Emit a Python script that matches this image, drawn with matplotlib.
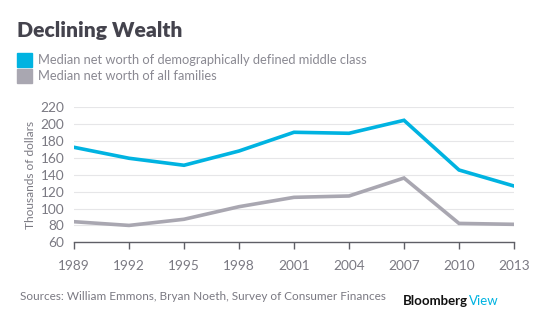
import matplotlib
matplotlib.use("Agg")
import matplotlib.pyplot as plt

# median net worth, thousands of dollars
years = [1989, 1992, 1995, 1998, 2001, 2004, 2007, 2010, 2013]
middle_class = [172.6, 159.6, 151.3, 168.2, 190.4, 189.2, 204.6, 145.7, 126.7]
all_families = [84.4, 80.0, 87.3, 102.2, 113.3, 114.9, 136.2, 82.4, 81.3]
yticks = [60, 80, 100, 120, 140, 160, 180, 200, 220]

blue = "#00b3e1"
grey = "#a9a7b1"
text_grey = "#7a7982"

plt.rcParams["font.family"] = ["Lato", "DejaVu Sans"]

fig = plt.figure(figsize=(5.54, 3.31), dpi=100)
ax = fig.add_axes([74 / 554, 1 - 242.3 / 331, 440 / 554, 135 / 331])

ax.plot(years, middle_class, color=blue, lw=2.6, solid_joinstyle="miter", zorder=3)
ax.plot(years, all_families, color=grey, lw=2.6, solid_joinstyle="miter", zorder=3)

ax.set_xlim(years[0], years[-1])
ax.set_ylim(60, 220)
ax.set_xticks(years)
ax.set_yticks(yticks)
ax.grid(axis="y", color="#e6e6e8", lw=0.8)
ax.set_axisbelow(True)
for s in ["top", "right", "left"]:
    ax.spines[s].set_visible(False)
ax.spines["bottom"].set_color("#5f5f66")
ax.spines["bottom"].set_linewidth(1.0)
ax.tick_params(axis="x", length=5, width=1, color="#5f5f66", direction="out",
               labelsize=9.8, labelcolor=text_grey, pad=8)
ax.tick_params(axis="y", length=0, labelsize=9.8, labelcolor=text_grey, pad=7)
ax.set_ylabel("Thousands of dollars", fontsize=8.6, color=text_grey, labelpad=3)

# heading and legend
fig.text(17 / 554, 1 - 30 / 331, "Declining Wealth", fontsize=15.2, fontweight="heavy",
         color="#44434d", va="center", ha="left")
labels = ["Median net worth of demographically defined middle class",
          "Median net worth of all families"]
for i, (c, lab) in enumerate(zip([blue, grey], labels)):
    y = 1 - (60 + i * 16) / 331
    fig.patches.append(plt.Rectangle((17 / 554, y - 7 / 331), 15 / 554, 14 / 331,
                                     transform=fig.transFigure, color=c))
    fig.text(38 / 554, y, lab, fontsize=9.3, color="#8a8992", va="center", ha="left")

# footer
fig.text(20 / 554, 1 - 296 / 331,
         "Sources: William Emmons, Bryan Noeth, Survey of Consumer Finances",
         fontsize=8.5, color=text_grey, va="center", ha="left")
t = fig.text(403 / 554, 1 - 301 / 331, "Bloomberg", fontsize=9.5, fontweight="bold",
             color="#111111", va="center", ha="left")
fig.canvas.draw()
bb = t.get_window_extent()
fig.text(bb.x1 / 554 + 0.002, 1 - 301 / 331, "View", fontsize=9.5,
         color=blue, va="center", ha="left")

fig.savefig("out.png", dpi=100)
